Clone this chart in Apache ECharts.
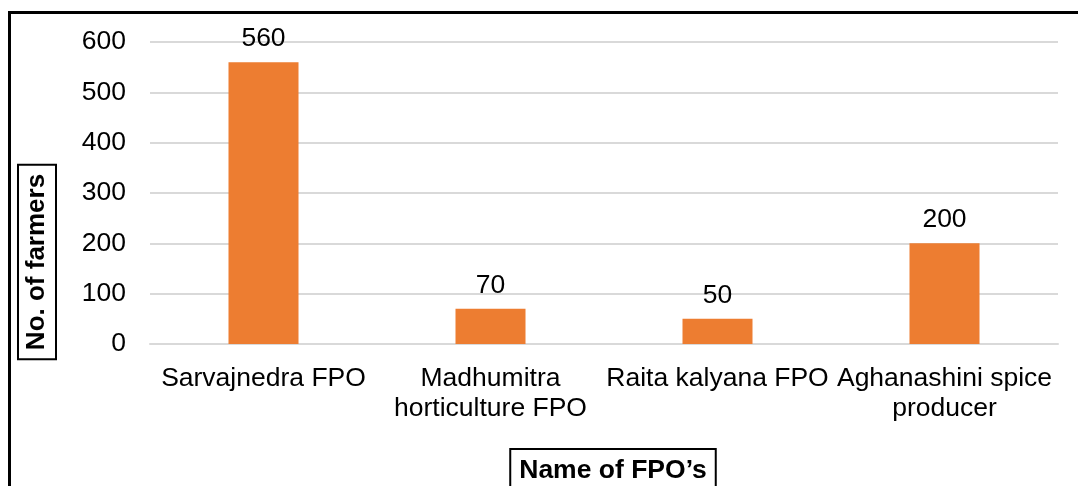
<!DOCTYPE html>
<html>
<head>
<meta charset="utf-8">
<script src="https://cdn.jsdelivr.net/npm/echarts@6/dist/echarts.min.js"></script>
<style>
  html, body { margin: 0; padding: 0; background: #fff; }
  #chart { width: 1078px; height: 486px; }
</style>
</head>
<body>
<div id="chart"></div>
<script>
var fpoNames = ["Sarvajnedra FPO", "Madhumitra\nhorticulture FPO", "Raita kalyana FPO", "Aghanashini spice\nproducer"];
var farmerCounts = [560, 70, 50, 200];
var yTicks = {min: 0, max: 600, step: 100};

var font = "Liberation Sans, Arial, sans-serif";
var chart = echarts.init(document.getElementById("chart"));

var option = {
    animation: false,
    grid: {left: 150, right: 20, top: 42, bottom: 142},
    xAxis: {
        type: "category",
        data: fpoNames,
        axisLine: {lineStyle: {color: "#d9d9d9", width: 2}},
        axisTick: {show: false},
        axisLabel: {
            interval: 0,
            hideOverlap: false,
            color: "#000",
            fontFamily: font,
            fontSize: 26.5,
            lineHeight: 30,
            margin: 20
        }
    },
    yAxis: {
        type: "value",
        min: yTicks.min,
        max: yTicks.max,
        interval: yTicks.step,
        axisLine: {show: false},
        axisTick: {show: false},
        splitLine: {lineStyle: {color: "#d9d9d9", width: 2}},
        axisLabel: {color: "#000", fontFamily: font, fontSize: 26.5, margin: 24}
    },
    series: [{
        type: "bar",
        data: farmerCounts,
        barWidth: 70,
        itemStyle: {color: "#ed7d31"},
        label: {
            show: true,
            position: "top",
            distance: 10,
            color: "#000",
            fontFamily: font,
            fontSize: 26.5
        }
    }],
    graphic: [
        {
            type: "rect",
            shape: {x: 9.5, y: 12.5, width: 1200, height: 600},
            style: {fill: "none", stroke: "#000", lineWidth: 3},
            silent: true
        },
        {
            type: "text",
            x: 37, y: 262,
            rotation: Math.PI / 2,
            style: {
                text: "No. of farmers",
                font: "bold 26px " + font,
                fill: "#000",
                align: "center",
                verticalAlign: "middle",
                borderColor: "#000",
                borderWidth: 2,
                padding: [6, 9, 6, 9]
            }
        },
        {
            type: "text",
            x: 613, y: 449,
            style: {
                text: "Name of FPO\u2019s",
                font: "bold 26.5px " + font,
                fill: "#000",
                align: "center",
                verticalAlign: "top",
                borderColor: "#000",
                borderWidth: 2,
                padding: [8, 9, 20, 9]
            }
        }
    ]
};
chart.setOption(option);
</script>
</body>
</html>
